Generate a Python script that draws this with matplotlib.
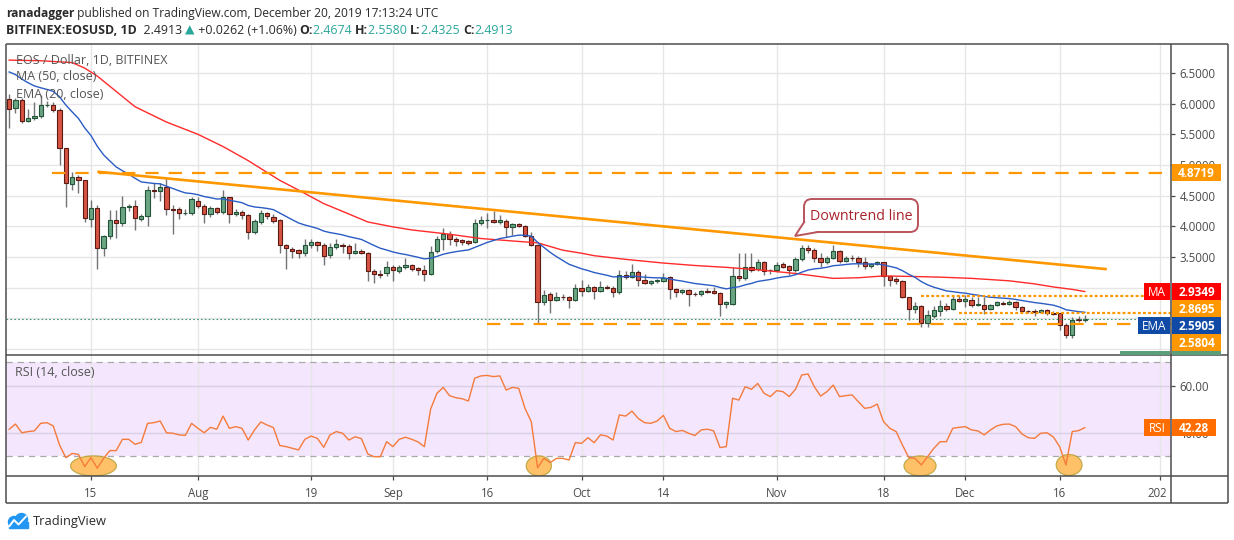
import matplotlib
matplotlib.use('Agg')
import matplotlib.pyplot as plt
from matplotlib.patches import Rectangle, Ellipse, FancyBboxPatch, Polygon
import numpy as np
import pandas as pd

# ---------------- data ----------------
start_date = '2019-07-02'
opens = [6.07, 5.93, 6.06, 5.72, 5.77, 5.80, 5.97, 5.98, 5.90, 5.27,
         4.69, 4.80, 4.75, 4.12, 4.29, 3.65, 3.84, 4.10, 4.06, 4.31,
         4.33, 4.12, 4.17, 4.59, 4.58, 4.64, 4.28, 4.28, 4.21, 4.21,
         4.42, 4.33, 4.20, 4.29, 4.24, 4.47, 4.20, 4.24, 4.19, 3.91,
         4.07, 4.21, 4.15, 4.10, 3.69, 3.63, 3.61, 3.57, 3.70, 3.74,
         3.69, 3.53, 3.66, 3.70, 3.67, 3.56, 3.60, 3.56, 3.27, 3.22,
         3.23, 3.33, 3.27, 3.33, 3.36, 3.32, 3.28, 3.22, 3.59, 3.80,
         3.88, 3.79, 3.77, 3.76, 3.75, 4.05, 4.10, 4.11, 4.07, 4.09,
         3.98, 4.04, 4.01, 3.84, 3.70, 2.77, 2.89, 2.80, 2.85, 2.85,
         2.80, 2.99, 2.95, 3.01, 2.94, 3.01, 3.00, 2.92, 3.20, 3.18,
         3.26, 3.13, 3.07, 3.10, 3.11, 3.17, 2.97, 2.93, 2.96, 2.90,
         2.89, 2.94, 2.94, 2.91, 2.73, 2.74, 3.19, 3.15, 3.34, 3.30,
         3.41, 3.28, 3.28, 3.38, 3.35, 3.28, 3.46, 3.64, 3.62, 3.48,
         3.41, 3.49, 3.60, 3.44, 3.49, 3.49, 3.42, 3.35, 3.39, 3.41,
         3.19, 3.14, 3.11, 2.84, 2.65, 2.70, 2.43, 2.54, 2.62, 2.70,
         2.65, 2.82, 2.78, 2.80, 2.72, 2.72, 2.65, 2.72, 2.75, 2.74,
         2.76, 2.68, 2.62, 2.61, 2.60, 2.63, 2.58, 2.58, 2.39, 2.22,
         2.49, 2.4674]
highs = [6.16, 6.09, 6.09, 5.92, 6.03, 6.14, 6.04, 6.02, 5.93, 5.28,
         4.89, 4.84, 4.76, 4.43, 4.35, 3.86, 4.27, 4.27, 4.49, 4.36,
         4.43, 4.20, 4.66, 4.71, 4.71, 4.78, 4.35, 4.31, 4.28, 4.48,
         4.48, 4.36, 4.33, 4.32, 4.59, 4.48, 4.28, 4.27, 4.20, 4.12,
         4.26, 4.24, 4.20, 4.12, 3.71, 3.66, 3.63, 3.79, 3.80, 3.76,
         3.72, 3.72, 3.79, 3.72, 3.71, 3.73, 3.63, 3.58, 3.30, 3.29,
         3.43, 3.36, 3.37, 3.48, 3.38, 3.34, 3.36, 3.68, 3.84, 3.97,
         3.93, 3.82, 3.79, 3.78, 4.12, 4.17, 4.21, 4.25, 4.19, 4.12,
         4.06, 4.06, 4.02, 3.90, 3.71, 2.96, 2.92, 2.92, 2.89, 2.87,
         3.06, 3.13, 3.05, 3.03, 3.10, 3.04, 3.02, 3.29, 3.27, 3.38,
         3.28, 3.22, 3.12, 3.14, 3.23, 3.19, 2.99, 2.97, 2.98, 2.92,
         2.96, 3.00, 3.01, 2.92, 2.78, 3.34, 3.57, 3.57, 3.57, 3.46,
         3.43, 3.31, 3.42, 3.42, 3.37, 3.50, 3.69, 3.69, 3.64, 3.56,
         3.52, 3.69, 3.62, 3.51, 3.53, 3.51, 3.50, 3.40, 3.44, 3.42,
         3.21, 3.17, 3.12, 2.85, 2.77, 2.72, 2.63, 2.70, 2.80, 2.75,
         2.88, 2.88, 2.88, 2.85, 2.85, 2.85, 2.74, 2.78, 2.78, 2.80,
         2.78, 2.70, 2.64, 2.65, 2.65, 2.65, 2.62, 2.59, 2.42, 2.52,
         2.53, 2.5580]
lows = [5.60, 5.85, 5.68, 5.70, 5.74, 5.76, 5.95, 5.86, 5.00, 4.32,
        4.59, 4.55, 4.07, 3.99, 3.30, 3.52, 3.80, 3.81, 4.00, 4.25,
        3.94, 4.08, 4.00, 4.46, 4.42, 4.18, 3.87, 4.12, 4.18, 4.18,
        4.30, 4.05, 4.15, 4.20, 4.20, 4.06, 4.16, 4.12, 3.80, 3.88,
        4.04, 4.12, 4.05, 3.57, 3.31, 3.49, 3.49, 3.51, 3.65, 3.60,
        3.36, 3.49, 3.63, 3.56, 3.47, 3.54, 3.54, 3.10, 3.07, 3.15,
        3.19, 3.11, 3.24, 3.31, 3.27, 3.20, 3.11, 3.20, 3.57, 3.62,
        3.70, 3.67, 3.70, 3.70, 3.72, 4.02, 3.97, 4.05, 4.04, 3.83,
        3.85, 3.98, 3.82, 3.67, 2.40, 2.72, 2.59, 2.78, 2.80, 2.67,
        2.78, 2.87, 2.92, 2.82, 2.92, 2.97, 2.85, 2.90, 3.14, 3.15,
        3.03, 3.05, 3.04, 3.07, 3.09, 2.82, 2.85, 2.90, 2.70, 2.86,
        2.86, 2.91, 2.89, 2.53, 2.66, 2.72, 3.10, 3.12, 3.25, 3.27,
        3.20, 3.22, 3.26, 3.32, 3.20, 3.26, 3.44, 3.57, 3.41, 3.33,
        3.39, 3.47, 3.40, 3.42, 3.44, 3.34, 3.30, 3.32, 3.36, 3.03,
        3.02, 3.05, 2.83, 2.47, 2.58, 2.36, 2.36, 2.50, 2.53, 2.62,
        2.63, 2.76, 2.68, 2.68, 2.70, 2.57, 2.63, 2.70, 2.72, 2.72,
        2.63, 2.58, 2.59, 2.54, 2.58, 2.56, 2.56, 2.30, 2.17, 2.17,
        2.44, 2.4325]
closes = [5.92, 6.06, 5.72, 5.76, 5.80, 5.97, 5.98, 5.90, 5.27, 4.70,
          4.81, 4.75, 4.13, 4.29, 3.65, 3.84, 4.10, 4.06, 4.31, 4.33,
          4.13, 4.16, 4.59, 4.58, 4.64, 4.28, 4.27, 4.21, 4.22, 4.44,
          4.33, 4.20, 4.29, 4.24, 4.47, 4.20, 4.24, 4.18, 3.91, 4.08,
          4.21, 4.16, 4.08, 3.69, 3.64, 3.59, 3.56, 3.70, 3.74, 3.69,
          3.51, 3.66, 3.71, 3.67, 3.56, 3.60, 3.56, 3.27, 3.22, 3.21,
          3.34, 3.28, 3.33, 3.37, 3.30, 3.28, 3.22, 3.58, 3.79, 3.88,
          3.79, 3.76, 3.75, 3.73, 4.05, 4.10, 4.11, 4.07, 4.10, 3.98,
          4.04, 4.01, 3.84, 3.70, 2.77, 2.88, 2.80, 2.85, 2.84, 2.80,
          2.99, 2.95, 3.01, 2.94, 3.01, 2.99, 2.92, 3.20, 3.18, 3.26,
          3.13, 3.07, 3.10, 3.12, 3.16, 2.97, 2.93, 2.96, 2.89, 2.89,
          2.94, 2.93, 2.91, 2.73, 2.76, 3.19, 3.15, 3.34, 3.29, 3.41,
          3.27, 3.28, 3.37, 3.34, 3.29, 3.46, 3.64, 3.62, 3.48, 3.41,
          3.49, 3.60, 3.44, 3.49, 3.48, 3.41, 3.35, 3.38, 3.41, 3.19,
          3.13, 3.10, 2.84, 2.65, 2.70, 2.43, 2.55, 2.63, 2.70, 2.65,
          2.82, 2.78, 2.81, 2.72, 2.74, 2.65, 2.72, 2.76, 2.74, 2.77,
          2.68, 2.62, 2.61, 2.60, 2.63, 2.58, 2.57, 2.39, 2.22, 2.47,
          2.47, 2.4913]

# MA(50) at sample candles
ma50_idx = [0, 5, 10, 12, 14, 17, 20, 25, 30, 34, 38, 43, 46, 50, 54, 57, 61,
            64, 70, 75, 80, 84, 86, 88, 91, 93, 98, 104, 109, 114, 119, 125,
            131, 135, 139, 144, 148, 153, 159, 163, 166, 169, 171]
ma50_val = [6.71, 6.70, 6.67, 6.58, 6.45, 6.20, 5.95, 5.70, 5.50, 5.30, 5.07,
            4.75, 4.59, 4.37, 4.20, 4.07, 3.99, 3.94, 3.87, 3.80, 3.76, 3.73,
            3.67, 3.61, 3.56, 3.52, 3.46, 3.40, 3.36, 3.33, 3.29, 3.23, 3.15,
            3.16, 3.19, 3.18, 3.17, 3.15, 3.11, 3.06, 3.01, 2.97, 2.935]
ema20_seed = 6.58   # EMA value before the first visible candle

rsi = [41.6, 43.8, 40.1, 40.6, 40.9, 44.1, 44.4, 43.0, 34.9, 29.5,
       31.3, 30.9, 25.7, 29.5, 25.0, 29.2, 32.5, 32.5, 37.3, 37.3,
       35.2, 36.0, 44.1, 44.4, 45.1, 40.1, 39.9, 39.2, 39.0, 44.1,
       42.0, 40.1, 42.4, 41.6, 47.2, 42.0, 42.7, 42.0, 37.0, 41.3,
       44.7, 43.4, 42.3, 34.7, 34.2, 33.5, 32.8, 37.3, 38.7, 37.7,
       33.9, 39.2, 40.6, 39.9, 37.0, 38.4, 37.6, 31.1, 29.9, 29.9,
       36.3, 34.2, 37.3, 38.2, 37.3, 36.2, 34.2, 50.2, 56.9, 59.4,
       55.9, 55.0, 54.6, 53.6, 63.3, 64.3, 64.5, 64.0, 64.3, 58.3,
       59.4, 59.0, 50.5, 44.8, 25.2, 29.2, 27.4, 29.2, 29.2, 28.5,
       35.9, 35.6, 38.0, 35.9, 39.2, 38.7, 37.0, 47.7, 47.2, 49.3,
       46.2, 44.4, 44.1, 45.1, 47.5, 42.0, 40.6, 41.1, 39.9, 38.9,
       41.3, 41.6, 40.9, 33.8, 34.2, 54.8, 54.0, 59.7, 58.6, 61.1,
       56.9, 55.5, 58.0, 57.6, 55.5, 58.6, 64.7, 65.1, 59.7, 55.7,
       57.6, 60.4, 55.5, 55.9, 56.2, 53.3, 50.5, 50.9, 52.3, 44.8,
       42.0, 40.6, 34.9, 29.6, 29.2, 26.4, 29.9, 33.5, 36.3, 36.3,
       42.0, 42.4, 42.7, 41.3, 40.9, 39.2, 41.3, 43.0, 43.7, 43.8,
       42.7, 39.6, 38.0, 37.7, 39.9, 40.1, 38.3, 34.2, 26.4, 40.6,
       41.0, 42.28]

# drawings
trend_idx = [14, 174.5]
trend_val = [4.89, 3.30]
level_vals = [4.8719, 2.8695, 2.5804, 2.405]
level_start = [6.8, 145, 151, 76]
level_style = ['dash', 'dot', 'dot', 'dash']
last_price = 2.4913
ma_last, ema_last, rsi_last = 2.9349, 2.5905, 42.28
rsi_circles_idx = [13.4, 84.2, 144.8, 168.5]
rsi_circles_w = [7.3, 4.0, 5.1, 4.1]
rsi_circles_val = [26.0, 26.0, 26.0, 26.4]
rsi_circles_h = [8.5, 8.5, 8.5, 8.9]

tick_dates = ['2019-07-15', '2019-08-01', '2019-08-19', '2019-09-01', '2019-09-16',
              '2019-10-01', '2019-10-14', '2019-11-01', '2019-11-18', '2019-12-01',
              '2019-12-16', '2020-01-01']
tick_labels = ['15', 'Aug', '19', 'Sep', '16', 'Oct', '14', 'Nov', '18', 'Dec', '16', '2020']
price_grid = [2.0, 2.5, 3.0, 3.5, 4.0, 4.5, 5.0, 5.5, 6.0, 6.5]
price_ticks = [3.5, 4.0, 4.5, 5.0, 5.5, 6.0, 6.5]
rsi_ticks = [40, 60]

# ---------------- figure ----------------
FONT = ['Open Sans', 'DejaVu Sans']
plt.rcParams['font.family'] = FONT
W, H = 1234, 540
fig = plt.figure(figsize=(W / 100, H / 100), dpi=100)
fig.patch.set_facecolor('white')

L_, R_, RR = 6, 1171, 1228
T_, MB, RB, BB = 44, 355, 476, 503
ax = fig.add_axes([L_ / W, 1 - MB / H, (R_ - L_) / W, (MB - T_) / H])
ax2 = fig.add_axes([L_ / W, 1 - RB / H, (R_ - L_) / W, (RB - MB) / H])
axf = fig.add_axes([0, 0, 1, 1], zorder=10)
axf.set_xlim(0, W); axf.set_ylim(H, 0); axf.axis('off'); axf.patch.set_alpha(0)

o = np.array(opens); h = np.array(highs); l = np.array(lows); c = np.array(closes)
n = len(c)
x = np.arange(n)
d0 = pd.Timestamp(start_date)
tick_idx = [(pd.Timestamp(t) - d0).days for t in tick_dates]

XL = (-0.51, 184.7)
for a in (ax, ax2):
    a.set_xlim(*XL)
    for s in a.spines.values():
        s.set_visible(False)
    a.set_xticks(tick_idx)
    a.set_axisbelow(True)
    a.grid(axis='x', color='#e6e6e6', lw=1.0)
ax.set_ylim(1.900, 6.973)
ax2.set_ylim(21.70, 73.19)

GRAY = '#4a4a4a'
GRID = '#e6e6e6'
for v in price_grid:
    ax.axhline(v, color=GRID, lw=1.0, zorder=0.5)
ax.set_yticks(price_ticks)
ax.set_yticklabels(['%.4f' % v for v in price_ticks])
ax.yaxis.tick_right()
ax.tick_params(axis='y', length=3, width=0.9, color=GRAY, pad=3, labelsize=8.3, labelcolor=GRAY)
ax.tick_params(axis='x', length=0, labelbottom=False)

ax2.set_yticks(rsi_ticks)
ax2.set_yticklabels(['%.2f' % v for v in rsi_ticks])
ax2.yaxis.tick_right()
ax2.tick_params(axis='y', length=3, width=0.9, color=GRAY, pad=3, labelsize=8.3, labelcolor=GRAY)
ax2.set_xticklabels(tick_labels)
ax2.tick_params(axis='x', length=3, width=0.9, color=GRAY, pad=5, labelsize=8.3, labelcolor=GRAY)
ax2.grid(axis='y', color='#d9cfe6', lw=1.0)

# candles
up = c >= o
ax.vlines(x, l, h, color='#737375', lw=1.0, zorder=2)
bw = 0.68
ax.bar(x[up], np.maximum(c - o, 0.004)[up], bottom=o[up], width=bw, color='#6ba583',
       edgecolor='#225437', lw=0.8, zorder=3)
ax.bar(x[~up], np.maximum(o - c, 0.004)[~up], bottom=c[~up], width=bw, color='#d75442',
       edgecolor='#5b1a13', lw=0.8, zorder=3)

# moving averages
alpha = 2.0 / 21
ema = []
e = ema20_seed
for v in closes:
    e = e + alpha * (v - e)
    ema.append(e)
ax.plot(ma50_idx, ma50_val, color='#ff2a2a', lw=1.0, zorder=4)
ax.plot(x, ema, color='#2a5cc4', lw=1.0, zorder=4)

# drawings
ORANGE = '#ff9800'
ax.plot(trend_idx, trend_val, color=ORANGE, lw=1.9, zorder=5, solid_capstyle='butt')
for v, s0, st in zip(level_vals, level_start, level_style):
    if st == 'dash':
        ax.hlines(v, s0, XL[1], color=ORANGE, lw=1.6, linestyles=[(0, (6, 4.5))], zorder=5)
    else:
        ax.hlines(v, s0, XL[1], color=ORANGE, lw=1.6, linestyles=[(0, (1.3, 1.0))], zorder=5)
ax.axhline(last_price, color='#3d9970', lw=0.8, ls=(0, (1.5, 2.0)), zorder=5)

# RSI
ax2.axhspan(30, 70, color='#f3e6fd', zorder=0.2, lw=0)
ax2.axhline(70, color='#a9a9a9', lw=0.9, ls=(0, (5, 4)), zorder=1)
ax2.axhline(30, color='#a9a9a9', lw=0.9, ls=(0, (5, 4)), zorder=1)
for ci, cw, cv, ch in zip(rsi_circles_idx, rsi_circles_w, rsi_circles_val, rsi_circles_h):
    ax2.add_patch(Ellipse((ci, cv), cw, ch, facecolor='#ffb74d', alpha=0.85,
                          edgecolor='#b8a23a', lw=0.9, zorder=2))
ax2.plot(x, rsi, color='#f57b3c', lw=1.0, zorder=3)

# ---------- overlay: frame, labels, text ----------
fr = dict(color='#4d4d4d', lw=1.1, solid_capstyle='butt')
axf.add_patch(Rectangle((1166, RB + 1), RR - 1166 - 1, BB - RB - 2, color='white', zorder=1))
axf.plot([L_, RR], [T_, T_], **fr)
axf.plot([L_, RR], [BB, BB], **fr)
axf.plot([L_, L_], [T_, BB], **fr)
axf.plot([RR, RR], [T_, BB], **fr)
axf.plot([R_, R_], [T_, BB], **fr)
axf.plot([L_, RR], [MB, MB], **fr)
axf.plot([L_, RR], [RB, RB], **fr)

def py(a, v):
    return H - a.transData.transform((0, v))[1]

BH = 17
VX0, VX1 = 1172, 1221
labels = [(4.8719, ORANGE, None, 0), (ma_last, '#ff0000', 'MA', 27),
          (2.8695, ORANGE, None, 0), (ema_last, '#0f4aa6', 'EMA', 33),
          (2.5804, ORANGE, None, 0), (last_price, '#5d9e7a', '', 51)]
prev = -100
for v, col, tag, tw in labels:
    cy = max(py(ax, v), prev + BH)
    prev = cy
    top = cy - BH / 2
    bot = min(cy + BH / 2, MB)
    if top >= MB:
        continue
    axf.add_patch(Rectangle((VX0, top), VX1 - VX0, bot - top, color=col, zorder=3, lw=0))
    if tag is not None:
        axf.add_patch(Rectangle((R_ - tw, top), tw - 1, bot - top, color=col, zorder=3, lw=0))
    if bot - top > 10:
        axf.text((VX0 + VX1) / 2, cy + 0.5, '%.4f' % v, color='white', fontsize=8.5,
                 fontweight='bold', ha='center', va='center', zorder=4)
        if tag:
            axf.text(R_ - tw / 2 - 0.5, cy + 0.5, tag, color='white', fontsize=8.5,
                     ha='center', va='center', zorder=4)

ry = py(ax2, rsi_last)
RC = '#ff6d00'
axf.add_patch(Rectangle((VX0, ry - BH / 2), 1216 - VX0, BH, color=RC, zorder=3, lw=0))
axf.add_patch(Rectangle((1144, ry - BH / 2), R_ - 1 - 1144, BH, color=RC, zorder=3, lw=0))
axf.text((VX0 + 1216) / 2, ry + 0.5, '%.2f' % rsi_last, color='white', fontsize=8.5,
         fontweight='bold', ha='center', va='center', zorder=4)
axf.text((1144 + R_) / 2, ry + 0.5, 'RSI', color='white', fontsize=8.5,
         ha='center', va='center', zorder=4)

# legends
LG = '#555555'
axf.text(16, 60, 'EOS / Dollar, 1D, BITFINEX', color=LG, fontsize=9, va='center', ha='left')
axf.text(16, 77, 'MA (50, close)', color=LG, fontsize=9, va='center', ha='left')
axf.text(16, 94, 'EMA (20, close)', color=LG, fontsize=9, va='center', ha='left')
axf.text(15, 373, 'RSI (14, close)', color=LG, fontsize=9, va='center', ha='left')

# callout
bx0, by0, bx1, by1 = 804, 199, 918, 232
EC = '#b9545c'
axf.add_patch(FancyBboxPatch((bx0, by0), bx1 - bx0, by1 - by0,
                             boxstyle='round,pad=0,rounding_size=8',
                             facecolor='white', edgecolor=EC, lw=1.4, zorder=5))
axf.add_patch(Polygon([(bx0 + 0.8, 222), (795, 236), (818, by1 - 0.8), (bx0 + 3, by1 - 3)],
                      closed=True, facecolor='white', edgecolor='none', zorder=6))
axf.plot([bx0 + 0.2, 795, 818], [222, 236, by1], color=EC, lw=1.4, zorder=7,
         solid_joinstyle='miter')
axf.text((bx0 + bx1) / 2, (by0 + by1) / 2 + 0.5, 'Downtrend line', color='#a8232b',
         fontsize=10.3, ha='center', va='center', zorder=8)

# header (rich text)
r = fig.canvas.get_renderer()

def rich(x0, y0, parts, size, target=None):
    def draw(sz):
        xx = x0
        ts = []
        for txt, col, wt in parts:
            t = axf.text(xx, y0, txt, color=col, fontsize=sz, fontweight=wt,
                         ha='left', va='center', family=FONT)
            bb = t.get_window_extent(renderer=r)
            xx += bb.width
            ts.append(t)
        return xx, ts
    xx, ts = draw(size)
    if target is not None:
        for t in ts:
            t.remove()
        size = size * (target - x0) / (xx - x0)
        xx, ts = draw(size)
    return xx

DK = '#2b2b2b'
TEAL = '#2aa69a'
rich(6, 13, [('ranadagger', DK, 'bold'),
             (' published on TradingView.com, December 20, 2019 17:13:24 UTC', DK, 'normal')],
     9.5, target=445)
rich(6, 30, [('BITFINEX:EOSUSD, 1D', DK, 'bold'), ('  2.4913 ', DK, 'normal'),
             ('\u25B2', TEAL, 'normal'), (' +0.0262 (+1.06%) ', DK, 'normal'),
             ('O:', DK, 'bold'), ('2.4674 ', TEAL, 'normal'),
             ('H:', DK, 'bold'), ('2.5580 ', TEAL, 'normal'),
             ('L:', DK, 'bold'), ('2.4325 ', TEAL, 'normal'),
             ('C:', DK, 'bold'), ('2.4913', TEAL, 'normal')],
     9.5, target=516)

# TradingView logo
BLUE = '#2196f3'
axf.add_patch(Ellipse((14, 522), 11, 11, color=BLUE, zorder=3))
axf.add_patch(Ellipse((21.5, 519.5), 12, 12, color=BLUE, zorder=3))
axf.add_patch(Rectangle((9, 522), 19, 6, color=BLUE, zorder=3))
axf.plot([9.5, 14, 18.5, 26], [526, 520, 524.5, 516.5], color='white', lw=1.4, zorder=4)
axf.text(33, 521, 'TradingView', color=DK, fontsize=9.3, ha='left', va='center')

fig.savefig('out.png', dpi=100, facecolor='white')
